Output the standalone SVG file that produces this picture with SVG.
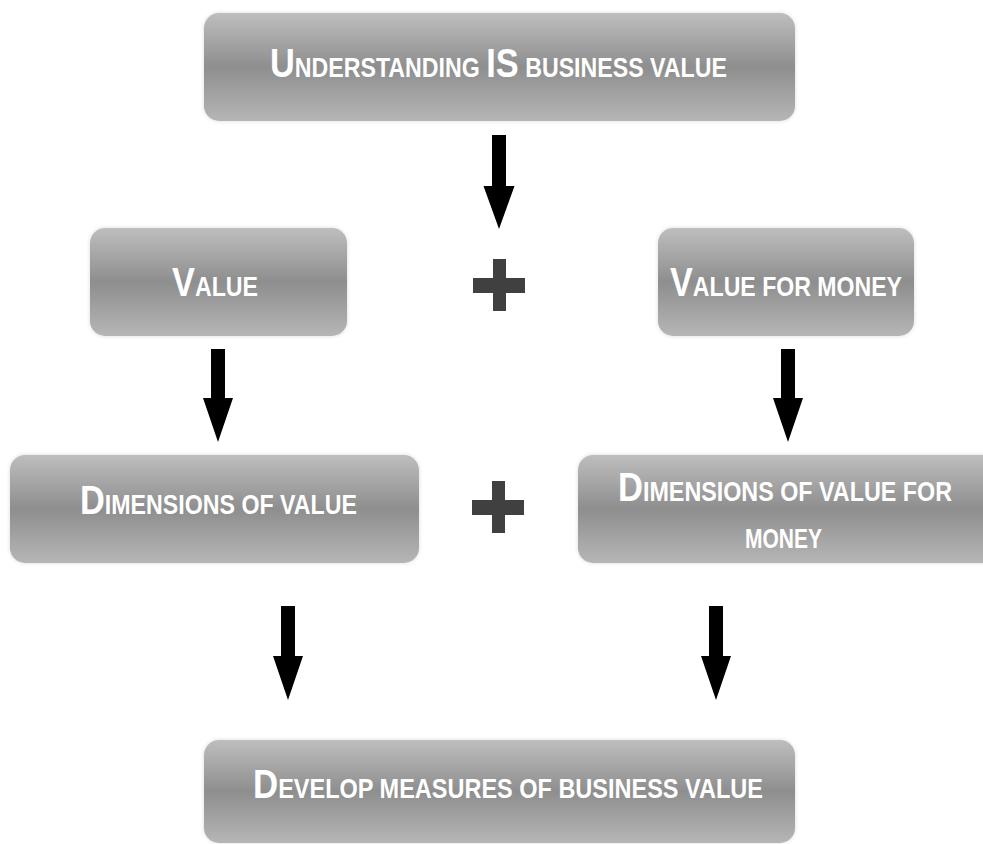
<svg xmlns="http://www.w3.org/2000/svg" width="983" height="844" viewBox="0 0 983 844">
<defs>
<linearGradient id="g" x1="0" y1="0" x2="0" y2="1">
<stop offset="0" stop-color="#bebebe"/>
<stop offset="0.5" stop-color="#8e8e8e"/>
<stop offset="1" stop-color="#b6b6b6"/>
</linearGradient>
<filter id="halo" x="-5%" y="-10%" width="110%" height="120%">
<feGaussianBlur in="SourceAlpha" stdDeviation="2"/>
<feComponentTransfer><feFuncA type="linear" slope="0.15"/></feComponentTransfer>
<feMerge><feMergeNode/><feMergeNode in="SourceGraphic"/></feMerge>
</filter>
</defs>
<style>
.box{fill:url(#g);filter:url(#halo)}
.t{font-family:"Liberation Sans",Arial,sans-serif;font-weight:bold;fill:#ffffff;font-size:27px}
.b{font-size:40px}
.arrow{fill:#000000}
.plus{fill:#404040}
</style>
<rect width="983" height="844" fill="#ffffff"/>
<g id="n-understanding">
<rect class="box" x="204" y="13" width="591" height="108" rx="15"/>
<text class="t" transform="scale(0.88,1)" x="306.8" y="77" textLength="519.3" lengthAdjust="spacingAndGlyphs"><tspan class="b">U</tspan>NDERSTANDING <tspan class="b">IS</tspan> BUSINESS VALUE</text>
</g>
<g id="n-value">
<rect class="box" x="90" y="228" width="257" height="108" rx="15"/>
<text class="t" transform="scale(0.88,1)" x="195.5" y="296" textLength="97.7" lengthAdjust="spacingAndGlyphs"><tspan class="b">V</tspan>ALUE</text>
</g>
<g id="n-vfm">
<rect class="box" x="658" y="228" width="256" height="108" rx="15"/>
<text class="t" transform="scale(0.88,1)" x="761.4" y="296" textLength="263.6" lengthAdjust="spacingAndGlyphs"><tspan class="b">V</tspan>ALUE FOR MONEY</text>
</g>
<g id="n-dim-value">
<rect class="box" x="10" y="455" width="409" height="108" rx="15"/>
<text class="t" transform="scale(0.88,1)" x="90.9" y="514" textLength="314.8" lengthAdjust="spacingAndGlyphs"><tspan class="b">D</tspan>IMENSIONS OF VALUE</text>
</g>
<g id="n-dim-vfm">
<rect class="box" x="578" y="455" width="420" height="108" rx="15"/>
<text class="t" transform="scale(0.88,1)" x="702.3" y="501" textLength="379.5" lengthAdjust="spacingAndGlyphs"><tspan class="b">D</tspan>IMENSIONS OF VALUE FOR</text>
<text class="t" transform="scale(0.88,1)" x="846.6" y="548" textLength="87.5" lengthAdjust="spacingAndGlyphs">MONEY</text>
</g>
<g id="n-develop">
<rect class="box" x="204" y="740" width="591" height="103" rx="15"/>
<text class="t" transform="scale(0.88,1)" x="287.5" y="798" textLength="579.5" lengthAdjust="spacingAndGlyphs"><tspan class="b">D</tspan>EVELOP MEASURES OF BUSINESS VALUE</text>
</g>
<g id="plus-signs">
<path class="plus" d="M493 259h13v19h19v15h-19v18h-13v-18h-20v-15h20z"/>
<path class="plus" d="M492 481h13v19h19v15h-19v18h-13v-18h-20v-15h20z"/>
</g>
<g id="connectors">
<path class="arrow" d="M492 135h14v51h8.5l-15.5 43l-15.5-43h8.5z"/>
<path class="arrow" d="M211 349h14v49h8l-15 44l-15-44h8z"/>
<path class="arrow" d="M781 349h14v49h8l-15 44l-15-44h8z"/>
<path class="arrow" d="M281 606h14v50h8l-15 44l-15-44h8z"/>
<path class="arrow" d="M709 606h14v50h8l-15 44l-15-44h8z"/>
</g>
</svg>
